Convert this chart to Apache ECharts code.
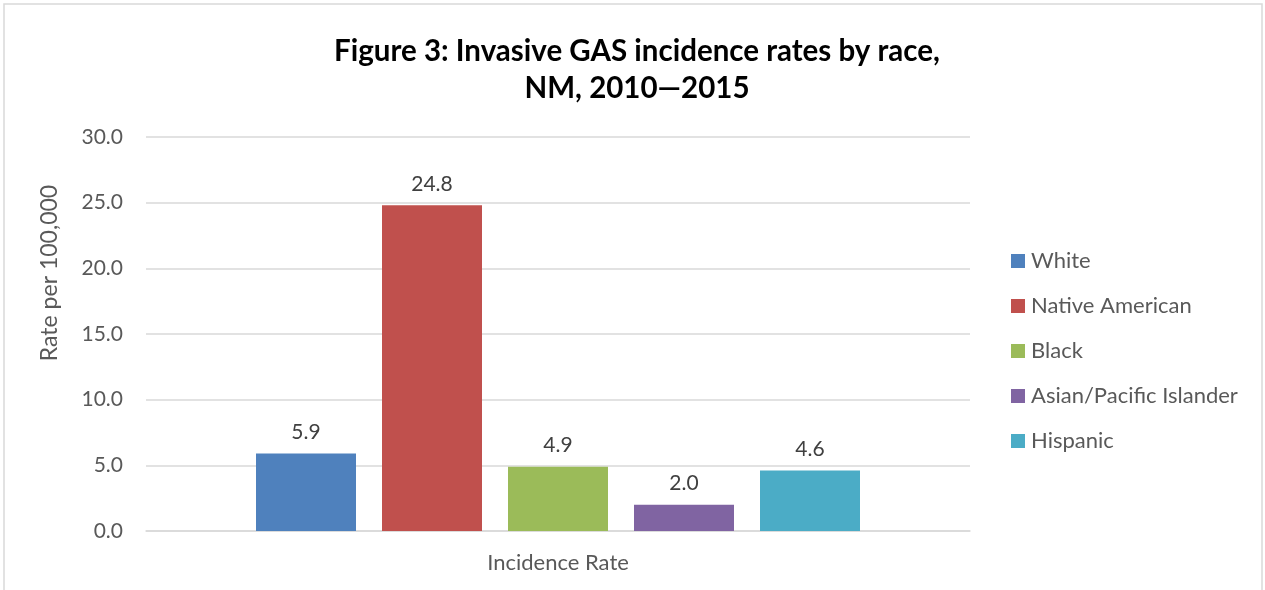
<!DOCTYPE html>
<html>
<head>
<meta charset="utf-8">
<script src="https://cdn.jsdelivr.net/npm/echarts@6/dist/echarts.min.js"></script>
<style>
  html, body { margin: 0; padding: 0; background: #fff; }
  #chart { width: 1265px; height: 590px; }
</style>
</head>
<body>
<div id="chart"></div>
<script>
// categories / series
const categories = ["Incidence Rate"];
const seriesNames = ["White", "Native American", "Black", "Asian/Pacific Islander", "Hispanic"];
const seriesValues = [[5.9], [24.8], [4.9], [2.0], [4.6]];
const seriesColors = ["#4f81bd", "#c0504d", "#9bbb59", "#8064a2", "#4bacc6"];

const FONT = "Lato";

const chartDom = document.getElementById("chart");
const myChart = echarts.init(chartDom, null, { renderer: "canvas" });

const series = seriesNames.map((name, i) => ({
  name: name,
  type: "bar",
  data: seriesValues[i],
  barWidth: 100,
  barGap: "26%",
  itemStyle: { color: seriesColors[i] },
  label: {
    show: true,
    position: "top",
    distance: 11,
    fontFamily: FONT,
    fontSize: 21,
    color: "#404040",
    formatter: (p) => p.value.toFixed(1),
  },
}));

const option = {
  animation: false,
  textStyle: { fontFamily: FONT },
  title: {
    text: "Figure 3: Invasive GAS incidence rates by race,\nNM, 2010\u20142015",
    left: 637,
    textAlign: "center",
    top: 33,
    padding: 0,
    textStyle: {
      fontFamily: FONT,
      fontSize: 29.5,
      fontWeight: "bold",
      color: "#000",
      lineHeight: 37,
    },
  },
  grid: {
    left: 146,
    right: 295,
    top: 137,
    bottom: 59,
    containLabel: false,
  },
  legend: {
    orient: "vertical",
    left: 1011,
    top: 250,
    padding: 0,
    itemWidth: 14,
    itemHeight: 14,
    itemGap: 23,
    icon: "rect",
    data: seriesNames,
    textStyle: { fontFamily: FONT, fontSize: 22, color: "#595959", padding: [0, 0, 0, 1] },
  },
  xAxis: {
    type: "category",
    data: categories,
    axisTick: { show: false },
    axisLine: { lineStyle: { color: "#d9d9d9", width: 1.5 } },
    axisLabel: { fontFamily: FONT, fontSize: 22, color: "#595959", margin: 21 },
  },
  yAxis: {
    type: "value",
    min: 0,
    max: 30,
    interval: 5,
    axisLine: { show: false },
    axisTick: { show: false },
    splitLine: { lineStyle: { color: "#d9d9d9", width: 1.5 } },
    axisLabel: {
      fontFamily: FONT,
      fontSize: 21,
      color: "#595959",
      margin: 23,
      formatter: (v) => v.toFixed(1),
    },
  },
  graphic: [
    {
      type: "rect",
      shape: { x: 4, y: 4, width: 1258, height: 600 },
      style: { fill: "none", stroke: "#d9d9d9", lineWidth: 1.5 },
      silent: true,
    },
    {
      type: "text",
      x: 50,
      y: 273,
      rotation: Math.PI / 2,
      style: {
        text: "Rate per 100,000",
        fontFamily: FONT,
        fontSize: 23,
        fill: "#595959",
        align: "center",
        verticalAlign: "middle",
      },
    },
  ],
  series: series,
};

myChart.setOption(option);
window.addEventListener("resize", () => {
  myChart.resize();
});
</script>
</body>
</html>
